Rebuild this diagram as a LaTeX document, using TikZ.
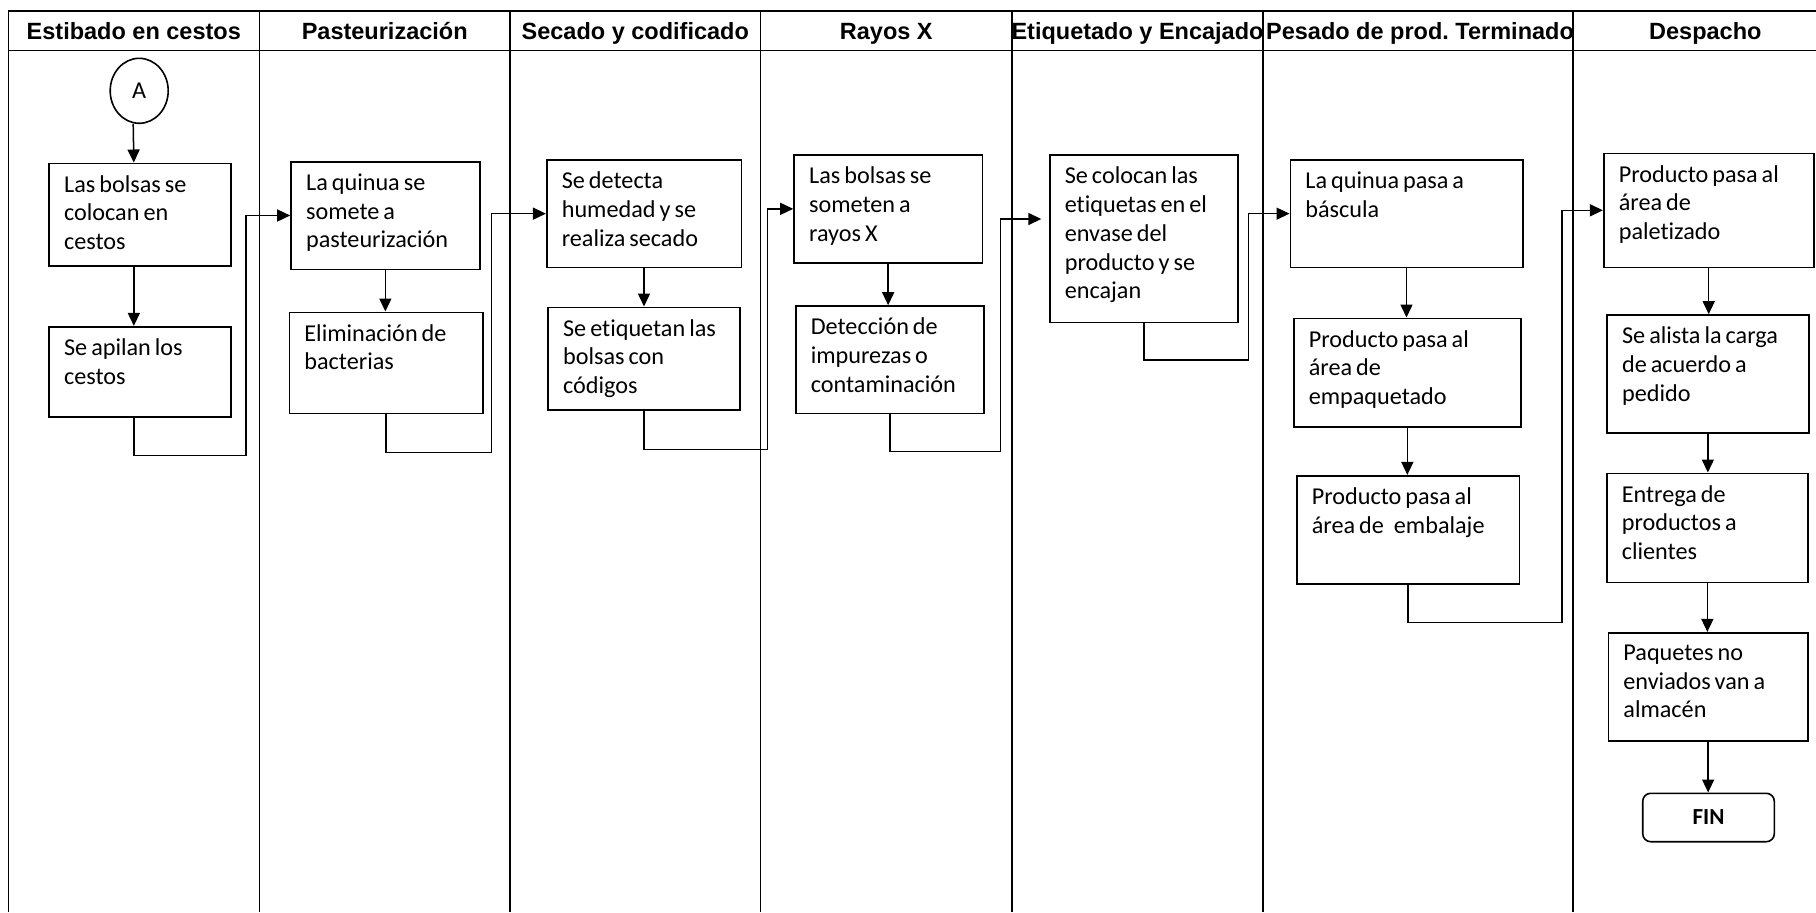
\documentclass[tikz,border=0pt]{standalone}
\usepackage{fontspec}
\setmainfont{Carlito}[Ligatures=NoCommon]
\newfontfamily\hdrfont{Liberation Sans}
\usetikzlibrary{arrows.meta,fit,calc,shapes.geometric}
\frenchspacing
\newskip\narrowsp
\narrowsp=2pt plus 0.5pt minus 0.3pt
\newcommand\setnarrow{\spaceskip\narrowsp}
\begin{document}
\begin{tikzpicture}[x=0.5pt,y=-0.5pt,
  lane/.style={line width=0.7pt},
  box/.style={draw,line width=0.8pt,inner sep=0pt},
  txt/.style={anchor=north west,inner sep=0pt,align=left,text width=130pt,font=\fontsize{12.1}{14.35}\selectfont,execute at begin node=\setnarrow},
  hdr/.style={anchor=base,inner sep=0pt,font=\hdrfont\bfseries\fontsize{11.75}{14}\selectfont},
  arr/.style={line width=0.75pt,-{Triangle[length=6.5pt,width=6pt]}},
  ]
\useasboundingbox (0,0) rectangle (1816,912);
\clip (0,0) rectangle (1816,912);
% frame
\draw[lane] (8.3,912) -- (8.3,11) -- (1816,11);
\draw[lane] (8.3,50.7) -- (1816,50.7);
\foreach \x in {259.3,510,760.7,1012,1263,1573} \draw[lane] (\x,11) -- (\x,912);
% headers
\node[hdr] (h1) at (133.8,39) {Estibado en cestos};
\node[hdr] (h2) at (384.7,39) {Pasteurización};
\node[hdr] (h3) at (635.3,39) {Secado y codificado};
\node[hdr] (h4) at (886.3,39) {Rayos X};
\node[hdr] (h5) at (1137.5,39) {Etiquetado y Encajado};
\node[hdr] (h6) at (1420,39) {Pesado de prod. Terminado};
\node[hdr] (h7) at (1705.3,39) {Despacho};
% start
\node[box,ellipse,minimum width=29pt,minimum height=32.5pt,font=\fontsize{12.1}{14}\selectfont] (A) at (139.2,90.8) {A};
% boxes
\node[box,fit={(49,163.3) (230.7,265.7)}] (b1) {};
\node[txt] (t1) at ($(b1.north west)+(15.5,12.5)$) {Las bolsas se\\colocan en\\cestos};
\node[box,fit={(49,326.7) (230.7,416.7)}] (b2) {};
\node[txt] (t2) at ($(b2.north west)+(15.5,12.5)$) {Se apilan los\\cestos};
\node[box,fit={(291,161.7) (479.7,269.3)}] (b3) {};
\node[txt] (t3) at ($(b3.north west)+(15.5,12.5)$) {La quinua se\\somete a\\pasteurización};
\node[box,fit={(289.3,312.3) (483,413.3)}] (b4) {};
\node[txt] (t4) at ($(b4.north west)+(15.5,12.5)$) {Eliminación de\\bacterias};
\node[box,fit={(546.7,160) (741.3,267.3)}] (b5) {};
\node[txt] (t5) at ($(b5.north west)+(15.5,12.5)$) {Se detecta\\humedad y se\\realiza secado};
\node[box,fit={(548,307.3) (740,410)}] (b6) {};
\node[txt] (t6) at ($(b6.north west)+(15.5,12.5)$) {Se etiquetan las\\bolsas con\\códigos};
\node[box,fit={(794,155) (982.3,262.7)}] (b7) {};
\node[txt] (t7) at ($(b7.north west)+(15.5,12.5)$) {Las bolsas se\\someten a\\rayos X};
\node[box,fit={(795.7,306) (984,413.3)}] (b8) {};
\node[txt] (t8) at ($(b8.north west)+(15.5,12.5)$) {Detección de\\impurezas o\\contaminación};
\node[box,fit={(1049.7,155) (1238,322.3)}] (b9) {};
\node[txt] (t9) at ($(b9.north west)+(15.5,12.5)$) {Se colocan las\\etiquetas en el\\envase del\\producto y se\\encajan};
\node[box,fit={(1290.3,160) (1522.7,267.3)}] (b10) {};
\node[txt] (t10) at ($(b10.north west)+(15.5,12.5)$) {La quinua pasa a\\báscula};
\node[box,fit={(1293.7,318.3) (1521,426.7)}] (b11) {};
\node[txt] (t11) at ($(b11.north west)+(15.5,12.5)$) {Producto pasa al\\área de\\empaquetado};
\node[box,fit={(1296.7,475.7) (1519.3,584)}] (b14) {};
\node[txt] (t14) at ($(b14.north west)+(15.5,12.5)$) {Producto pasa al\\área de\hspace{5pt}embalaje};
\node[box,fit={(1603.7,153.3) (1813.7,267.3)}] (b12) {};
\node[txt] (t12) at ($(b12.north west)+(15.5,12.5)$) {Producto pasa al\\área de\\paletizado};
\node[box,fit={(1607,315) (1808.7,432.7)}] (b13) {};
\node[txt] (t13) at ($(b13.north west)+(15.5,12.5)$) {Se alista la carga\\de acuerdo a\\pedido};
\node[box,fit={(1606.7,473.3) (1808,582.3)}] (b15) {};
\node[txt] (t15) at ($(b15.north west)+(15.5,12.5)$) {Entrega de\\productos a\\clientes};
\node[box,fit={(1608.3,632.7) (1808,741)}] (b16) {};
\node[txt] (t16) at ($(b16.north west)+(15.5,12.5)$) {Paquetes no\\enviados van a\\almacén};
\node[box,rounded corners=4pt,minimum width=65.8pt,minimum height=24.2pt,font=\bfseries\fontsize{11.5}{14}\selectfont] (fin) at (1708.5,817.5) {FIN};
\coordinate (e9) at (1041.3,219);
% connectors
\draw[arr] ([xshift=-3pt]A.south) -- ([xshift=-3pt]b1.north);
\draw[arr] ([xshift=-3pt]b1.south) -- ([xshift=-3pt]b2.north);
\draw[arr] ([xshift=-3pt]b2.south) |- (246,455.7) |- (b3.west);
\draw[arr] (b3.south) -- (b3.south |- b4.north);
\draw[arr] (b4.south) |- (491.7,452.3) |- (b5.west);
\draw[arr] (b5.south) -- (b5.south |- b6.north);
\draw[arr] (b6.south) |- (767.3,449.3) |- (b7.west);
\draw[arr] (b7.south) -- (b7.south |- b8.north);
\draw[arr] (b8.south) |- (1000.3,451.7) |- (e9);
\draw[arr] (b9.south) |- (1248.7,360) |- (b10.west);
\draw[arr] (b10.south) -- (b10.south |- b11.north);
\draw[arr] (b11.south) -- (b11.south |- b14.north);
\draw[arr] (b14.south) |- (1562,622.7) |- (b12.west);
\draw[arr] (b12.south) -- (b12.south |- b13.north);
\draw[arr] (b13.south) -- (b13.south |- b15.north);
\draw[arr] (b15.south) -- (b15.south |- b16.north);
\draw[arr] (b16.south) -- (b16.south |- fin.north);
\end{tikzpicture}
\end{document}
